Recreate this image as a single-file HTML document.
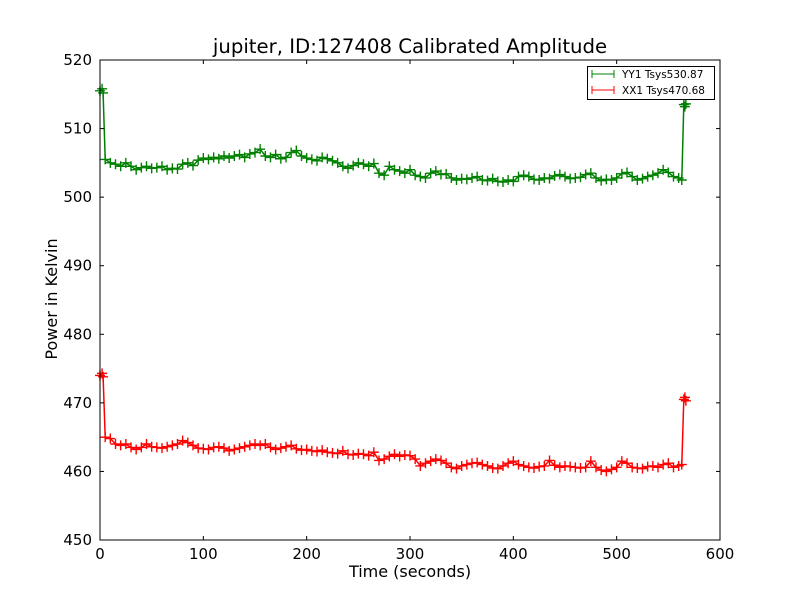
<!DOCTYPE html>
<html><head><meta charset="utf-8"><style>
body{margin:0;background:#fff;}
svg{display:block;font-family:"DejaVu Sans","Liberation Sans",sans-serif;}
</style></head><body>
<svg id="chart" width="800" height="600">
<rect x="0" y="0" width="800" height="600" fill="#fff"/>
<text x="410" y="53" font-size="19.7" text-anchor="middle">jupiter, ID:127408 Calibrated Amplitude</text>
<text x="410" y="577" font-size="16" text-anchor="middle">Time (seconds)</text>
<text x="57" y="299" font-size="16" text-anchor="middle" transform="rotate(-90 57 299)">Power in Kelvin</text>
<g id="plot"></g>
<g id="axes"></g>
<g>
<rect x="587.5" y="66.5" width="127" height="33" fill="#fff" stroke="#000" stroke-width="1"/>
<g>
<line x1="592" y1="74" x2="614" y2="74" stroke="#008000"/>
<line x1="592" y1="70" x2="592" y2="78" stroke="#008000"/><line x1="614" y1="70" x2="614" y2="78" stroke="#008000"/>
<text x="622" y="78" font-size="10.5">YY1 Tsys530.87</text></g>
<g>
<line x1="592" y1="90" x2="614" y2="90" stroke="#ff0000"/>
<line x1="592" y1="86" x2="592" y2="94" stroke="#ff0000"/><line x1="614" y1="86" x2="614" y2="94" stroke="#ff0000"/>
<text x="622" y="94" font-size="10.5">XX1 Tsys470.68</text></g>
</g>
</svg>
<script>
const times=[0,2,3,5,10,15,20,25,30,35,40,45,50,55,60,65,70,75,80,85,90,95,100,105,110,115,120,125,130,135,140,145,150,155,160,165,170,175,180,185,190,195,200,205,210,215,220,225,230,235,240,245,250,255,260,265,270,275,280,285,290,295,300,305,310,315,320,325,330,335,340,345,350,355,360,365,370,375,380,385,390,395,400,405,410,415,420,425,430,435,440,445,450,455,460,465,470,475,480,485,490,495,500,505,510,515,520,525,530,535,540,545,550,555,560,563,565,566,567];
const yy1=[515.5,515.8,515.2,
505.5,505,504.8,504.5,505,504.5,504,504.3,504.5,504.2,
504.3,504.5,504,504.2,504.1,504.8,505,504.6,505.4,505.7,
505.5,505.8,505.6,506,505.7,506,506.2,505.8,506.3,506.5,
507,506,505.8,506.2,505.6,505.8,506.5,506.8,506,505.7,
505.5,505.3,505.8,505.6,505.3,505,504.5,504.2,504.6,505,
504.8,504.5,504.9,503.5,503.2,504.5,504,503.8,503.5,504,
503.2,503,502.8,503.5,503.8,503.3,503.4,502.8,502.5,502.7,
502.6,502.8,503,502.5,502.4,502.7,502.3,502.2,502.5,502.3,
503,503.2,503,502.6,502.5,502.8,502.7,503.1,503.3,503,
502.7,502.8,502.9,503.3,503.5,502.8,502.4,502.6,502.5,502.8,
503.4,503.6,503,502.5,502.7,503,503.2,503.5,504,503.6,
503,502.8,502.5,513.5,513.2,513.6];
const xx1=[474,474.3,473.8,
465,464.8,464,463.8,464,463.5,463.2,463.5,464,463.6,
463.5,463.4,463.6,463.8,464,464.5,464.2,463.8,463.4,463.3,
463.2,463.5,463.6,463.4,463,463.2,463.4,463.6,463.8,464,
463.8,464,463.5,463.2,463.4,463.6,463.8,463.3,463.1,463.2,
463,462.9,463.1,462.8,462.7,462.6,463,462.5,462.4,462.6,
462.5,462.3,462.8,461.6,461.8,462.2,462.5,462.2,462.4,462.3,
461.8,460.8,461.2,461.5,461.8,461.6,461.2,460.6,460.4,460.8,
461,461.2,461.3,461,460.8,460.5,460.4,460.8,461.2,461.5,
461,460.8,460.6,460.5,460.7,460.8,461.6,460.9,460.6,460.8,
460.7,460.6,460.5,460.6,461.5,460.6,460.2,460,460.3,460.6,
461.5,461.2,460.6,460.5,460.4,460.7,460.8,460.6,461,461.2,
460.6,460.8,461,470.5,470.8,470.3];
const xTicks=[0,100,200,300,400,500,600];
const yTicks=[450,460,470,480,490,500,510,520];
const X0=100,X1=720,Y0=540,Y1=60;
function xs(v){return X0+(v-0)/(600-0)*(X1-X0);}
function ys(v){return Y0-(v-450)/(520-450)*(Y0-Y1);}
const NS='http://www.w3.org/2000/svg';
function mk(tag,attrs,parent){const e=document.createElementNS(NS,tag);for(const k in attrs)e.setAttribute(k,attrs[k]);parent.appendChild(e);return e;}
const plot=document.getElementById('plot');
function series(vals,color,name){
  const g=mk('g',{},plot);
  
  
  const pts=vals.map((v,i)=>xs(times[i]).toFixed(1)+','+ys(v).toFixed(1)).join(' ');
  const pl=mk('polyline',{points:pts,fill:'none',stroke:color,'stroke-width':1.5},g);
  
  
  let d='';
  vals.forEach((v,i)=>{const x=xs(times[i]),y=ys(v);d+=`M${x-5},${y}H${x+5}M${x},${y-5}V${y+5}`;});
  const m=mk('path',{d:d,stroke:color,'stroke-width':1.4,fill:'none'},g);
  
  
}
series(yy1,'#008000','series-yy1');
series(xx1,'#ff0000','series-xx1');
const ax=document.getElementById('axes');
const fr=mk('rect',{x:X0,y:Y1,width:X1-X0,height:Y0-Y1,fill:'none',stroke:'#000','stroke-width':1},ax);


xTicks.forEach(t=>{const x=xs(t);
  mk('line',{x1:x,y1:Y0,x2:x,y2:Y0-4,stroke:'#000'},ax);
  mk('line',{x1:x,y1:Y1,x2:x,y2:Y1+4,stroke:'#000'},ax);
  const tx=mk('text',{x:x,y:Y0+19,'font-size':15,'text-anchor':'middle'},ax);tx.textContent=t;
  
  
});
yTicks.forEach(t=>{const y=ys(t);
  mk('line',{x1:X0,y1:y,x2:X0+4,y2:y,stroke:'#000'},ax);
  mk('line',{x1:X1,y1:y,x2:X1-4,y2:y,stroke:'#000'},ax);
  const tx=mk('text',{x:X0-8,y:y+5,'font-size':15,'text-anchor':'end'},ax);tx.textContent=t;
  
  
});
</script>
</body></html>
